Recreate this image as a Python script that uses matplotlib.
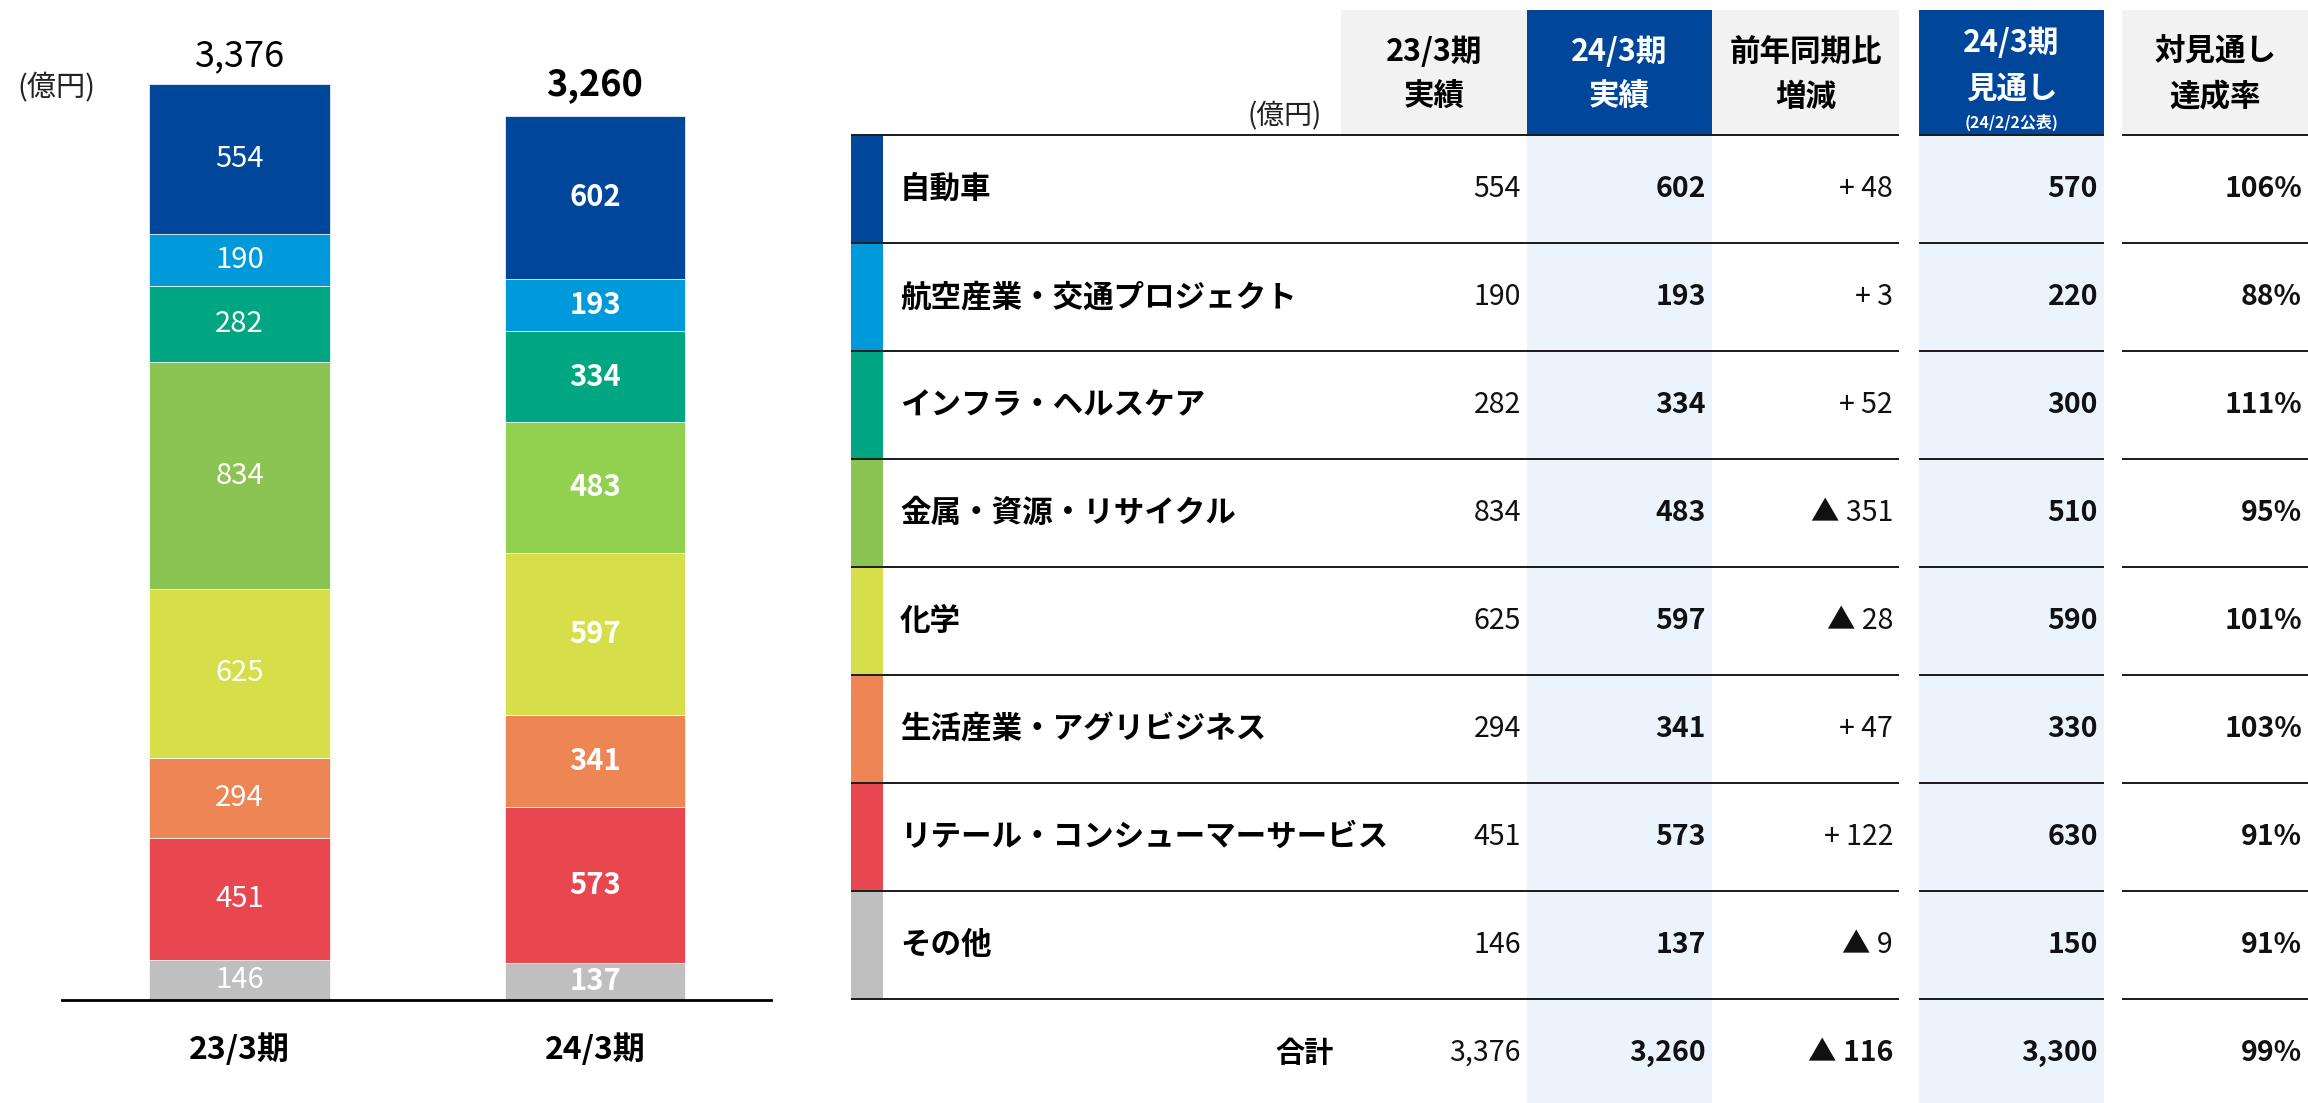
import numpy as np
import matplotlib.pyplot as plt
from matplotlib.patches import Rectangle

plt.rcParams['font.family'] = ['Noto Sans CJK JP', 'DejaVu Sans']

# ---- data (億円) ----
segments = ['自動車', '航空産業・交通プロジェクト', 'インフラ・ヘルスケア', '金属・資源・リサイクル',
            '化学', '生活産業・アグリビジネス', 'リテール・コンシューマーサービス', 'その他']
periods = ['23/3期', '24/3期']
fy23 = [554, 190, 282, 834, 625, 294, 451, 146]
fy24 = [602, 193, 334, 483, 597, 341, 573, 137]
outlook = [570, 220, 300, 510, 590, 330, 630, 150]
outlook_total = 3300
colors23 = ['#00469B', '#0099D9', '#00A582', '#8CC453', '#D6DF4A', '#EE8555', '#E8474F', '#BFBFBF']
colors24 = ['#00469B', '#0099D9', '#00A582', '#92D050', '#D6DF4A', '#EE8555', '#E8474F', '#BFBFBF']

tot23 = sum(fy23)
tot24 = sum(fy24)

def diff_str(v):
    return f'+ {v:,}' if v >= 0 else f'▲ {abs(v):,}'

W, H = 2308, 1103
fig = plt.figure(figsize=(W / 100, H / 100), dpi=100)

# ---- table (pixel coordinate axes) ----
tax = fig.add_axes([0, 0, 1, 1], zorder=0)
tax.set_xlim(0, W)
tax.set_ylim(H, 0)
tax.axis('off')

NAVY = '#00469B'
GRAY = '#F2F2F2'
LIGHT = '#EBF4FC'
head_top, head_bot = 10, 135
row_h = 108
# col: (left, right, header bg, body bg, bold)
cols = [(1341, 1527, GRAY, None, False),
        (1527, 1712, NAVY, LIGHT, True),
        (1712, 1899, GRAY, None, False),
        (1919, 2104, NAVY, LIGHT, True),
        (2122, 2308, GRAY, None, True)]
headers = [('23/3期', '実績'), ('24/3期', '実績'), ('前年同期比', '増減'),
           ('24/3期', '見通し'), ('対見通し', '達成率')]

for (x0, x1, hbg, bbg, _), (h1, h2) in zip(cols, headers):
    tax.add_patch(Rectangle((x0, head_top), x1 - x0, head_bot - head_top, color=hbg, lw=0))
    if bbg:
        tax.add_patch(Rectangle((x0, head_bot), x1 - x0, H - head_bot, color=bbg, lw=0))
    tc = 'white' if hbg == NAVY else 'black'
    cx = (x0 + x1) / 2
    if h2 == '見通し':
        tax.text(cx, 43, h1, ha='center', va='center', fontsize=22, weight='bold', color=tc)
        tax.text(cx, 89, h2, ha='center', va='center', fontsize=22, weight='bold', color=tc)
        tax.text(cx, 122, '(24/2/2公表)', ha='center', va='center', fontsize=11.5, weight='bold', color=tc)
    else:
        tax.text(cx, 52, h1, ha='center', va='center', fontsize=22, weight='bold', color=tc)
        tax.text(cx, 97, h2, ha='center', va='center', fontsize=22, weight='bold', color=tc)

tax.text(1322, 116, '(億円)', ha='right', va='center', fontsize=20, color='#222222')

# horizontal rules
n = len(segments)
line_ys = [head_bot + row_h * i for i in range(n + 1)]
for y in line_ys:
    tax.hlines(y, 851, 1899, color='#1a1a1a', lw=1.4)
    tax.hlines(y, 1919, 2104, color='#1a1a1a', lw=1.4)
    tax.hlines(y, 2122, 2308, color='#1a1a1a', lw=1.4)

rights = [x1 - 6 for (_, x1, _, _, _) in cols]
for i, seg in enumerate(segments):
    top = head_bot + row_h * i
    cy = top + row_h / 2
    tax.add_patch(Rectangle((851, top + 1), 32, row_h - 2, color=colors23[i], lw=0))
    tax.text(900, cy, seg, ha='left', va='center', fontsize=22, weight='bold')
    vals = [f'{fy23[i]:,}', f'{fy24[i]:,}', diff_str(fy24[i] - fy23[i]),
            f'{outlook[i]:,}', f'{round(fy24[i] / outlook[i] * 100)}%']
    for (x0, x1, _, _, bold), r, v in zip(cols, rights, vals):
        tax.text(r, cy, v, ha='right', va='center', fontsize=20.5,
                 weight='bold' if bold else 'normal', color='#111111')

# total row
ty = 1053
tax.text(1334, ty, '合計', ha='right', va='center', fontsize=21, weight='bold')
tvals = [f'{tot23:,}', f'{tot24:,}', diff_str(tot24 - tot23),
         f'{outlook_total:,}', f'{round(tot24 / outlook_total * 100)}%']
tbold = [False, True, True, True, True]
for r, v, b in zip(rights, tvals, tbold):
    tax.text(r, ty, v, ha='right', va='center', fontsize=20.5,
             weight='bold' if b else 'normal', color='#111111')

# ---- stacked bar chart ----
base_y = 1000
px_per_unit = 0.2713
ax = fig.add_axes([62 / W, (H - base_y) / H, (771 - 62) / W, base_y / H], zorder=2)
ax.set_facecolor('none')
ax.set_ylim(0, base_y / px_per_unit)
ax.set_xlim(-0.4993, 1.495)

x = np.arange(2)
bottoms = np.zeros(2)
for k in reversed(range(n)):
    vals = np.array([fy23[k], fy24[k]])
    ax.bar(x, vals, 0.509, bottom=bottoms, color=[colors23[k], colors24[k]],
           edgecolor='white', linewidth=0.5)
    for i in range(2):
        ax.text(x[i], bottoms[i] + vals[i] / 2, f'{vals[i]:,}', ha='center', va='center',
                fontsize=21, color='white', weight='bold' if i == 1 else 'normal')
    bottoms += vals

ax.annotate(f'{tot23:,}', (0, tot23), xytext=(0, 20), textcoords='offset points',
            ha='center', va='center', fontsize=26)
ax.annotate(f'{tot24:,}', (1, tot24), xytext=(0, 22), textcoords='offset points',
            ha='center', va='center', fontsize=26, weight='bold')

for s in ['top', 'left', 'right']:
    ax.spines[s].set_visible(False)
ax.spines['bottom'].set_linewidth(2)
ax.spines['bottom'].set_color('black')
ax.set_yticks([])
ax.set_xticks(x)
ax.set_xticklabels(periods, fontsize=23, weight='bold')
ax.tick_params(axis='x', length=0, pad=24)

fig.text(56 / W, 1 - 88 / H, '(億円)', ha='center', va='center', fontsize=21, color='#222222')

fig.savefig('out.png', dpi=100)
